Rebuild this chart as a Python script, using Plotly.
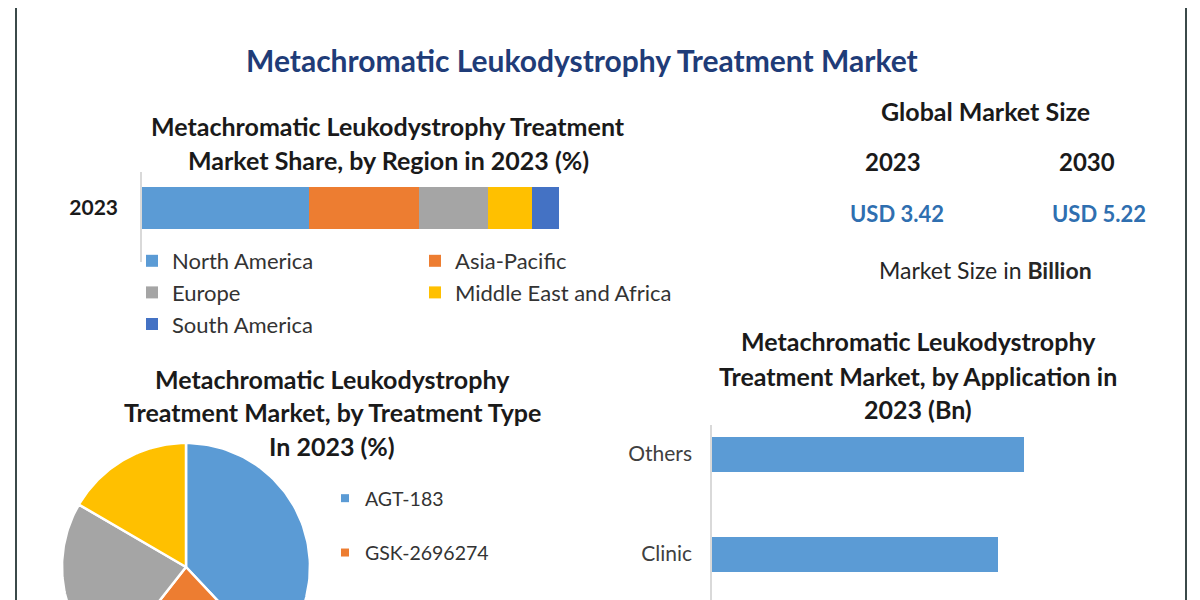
import numpy as np
import plotly.graph_objects as go

# page body has an 8px margin: the figure occupies page pixels 8..1200 / 8..600
OFF = 8
W, H = 1200 - OFF, 600 - OFF
FONT = "Lato"

# ---------------- data ----------------
main_title = "Metachromatic Leukodystrophy Treatment Market"

region_title = ["Metachromatic Leukodystrophy Treatment",
                "Market Share, by Region in 2023 (%)"]
region_year = "2023"
regions = ["North America", "Asia-Pacific", "Europe", "Middle East and Africa", "South America"]
region_share = [40.0, 26.4, 16.5, 10.6, 6.5]
region_colors = ["#5b9bd5", "#ed7d31", "#a5a5a5", "#ffc000", "#4472c4"]

market_years = ["2023", "2030"]
market_values = [3.42, 5.22]

treat_title = ["Metachromatic Leukodystrophy",
               "Treatment Market, by Treatment Type",
               "In 2023 (%)"]
treatments = ["AGT-183", "GSK-2696274", "OTL-200", "Others"]
treat_share = [38.0, 22.6, 22.8, 16.6]
treat_colors = ["#5b9bd5", "#ed7d31", "#a5a5a5", "#ffc000"]

app_title = ["Metachromatic Leukodystrophy",
             "Treatment Market, by Application in",
             "2023 (Bn)"]
applications = ["Others", "Clinic"]
app_values = [1.25, 1.146]
app_color = "#5b9bd5"


def py(px):
    """page pixel row -> paper y"""
    return 1 - (px - OFF) / H


def pxx(px):
    """page pixel column -> paper x"""
    return (px - OFF) / W


fig = go.Figure()

# ---------------- stacked region bar ----------------
leg_of = ["legend", "legend2", "legend", "legend2", "legend"]
for i, (name, val, col) in enumerate(zip(regions, region_share, region_colors)):
    fig.add_trace(go.Bar(
        x=[val], y=[0], orientation="h", name=name, width=0.467,
        marker=dict(color=col, line=dict(width=0)),
        legend=leg_of[i], legendgroup=name,
        xaxis="x", yaxis="y", hoverinfo="name+x"))

# ---------------- pie (drawn as wedges, clipped by bottom edge) ----------------
cum = np.concatenate([[0], np.cumsum(treat_share)]) / np.sum(treat_share) * 2 * np.pi
for i, (name, col) in enumerate(zip(treatments, treat_colors)):
    th = np.linspace(cum[i], cum[i + 1], 80)
    xs = np.concatenate([[0], np.sin(th), [0]])
    ys = np.concatenate([[0], np.cos(th), [0]])
    fig.add_trace(go.Scatter(
        x=xs, y=ys, mode="lines", fill="toself", fillcolor=col,
        line=dict(color="white", width=2.5), name=name,
        legendgroup=name, showlegend=False,
        xaxis="x3", yaxis="y3", hoverinfo="name"))
    # legend entry (square swatch)
    fig.add_trace(go.Scatter(
        x=[None], y=[None], mode="markers", name=name,
        marker=dict(symbol="square", size=8, color=col),
        legend="legend3", legendgroup=name, showlegend=i < 2,
        xaxis="x3", yaxis="y3"))

# ---------------- application bars ----------------
fig.add_trace(go.Bar(
    x=app_values, y=applications, orientation="h", width=0.35,
    marker=dict(color=app_color, line=dict(width=0)), showlegend=False,
    xaxis="x2", yaxis="y2", hoverinfo="x+y"))

hidden = dict(showgrid=False, zeroline=False, showticklabels=False, showline=False, ticks="")

# ---------------- annotations ----------------
ann = []


def text(t, x, y, size, color="#1a1a1a", bold=True, xanchor="center"):
    ann.append(dict(text=t, x=pxx(x), y=py(y), xref="paper", yref="paper",
                    xanchor=xanchor, yanchor="middle", showarrow=False,
                    font=dict(family=FONT, size=size, color=color,
                              weight="bold" if bold else "normal")))


text(main_title, 582, 60, 30, color="#1f3c78")
text(region_title[0], 388, 126, 25)
text(region_title[1], 388, 160, 25)

text("Global Market Size", 985, 111, 25)
text(market_years[0], 893, 162, 24)
text(market_years[1], 1087, 162, 24)
text(f"USD {market_values[0]:.2f}", 897, 213, 22, color="#2f6fb0")
text(f"USD {market_values[1]:.2f}", 1099, 213, 22, color="#2f6fb0")
text("Market Size in <b>Billion</b>", 985, 270, 23, color="#262626", bold=False)

for t, yy in zip(treat_title, [379, 412, 446]):
    text(t, 332, yy, 25)
for t, yy in zip(app_title, [341, 376, 409]):
    text(t, 918, yy, 25)

fig.update_layout(
    width=W, height=H,
    margin=dict(l=0, r=0, t=0, b=0),
    paper_bgcolor="white", plot_bgcolor="white",
    barmode="stack", bargap=0,
    font=dict(family=FONT, color="#262626"),
    annotations=ann,
    # region bar
    xaxis=dict(domain=[pxx(142), pxx(559)], range=[0, 100], anchor="y", **hidden),
    yaxis=dict(domain=[py(262), py(172)], range=[-0.6, 0.4], anchor="x",
               tickvals=[0], ticktext=[region_year], showgrid=False, zeroline=False,
               showline=True, linecolor="#d9d9d9", linewidth=1.5, ticks="",
               ticklabelstandoff=18,
               tickfont=dict(family=FONT, size=21, color="#1a1a1a", weight="bold")),
    # application bars
    xaxis2=dict(domain=[pxx(712), pxx(1111)], range=[0, 1.6], anchor="y2", **hidden),
    yaxis2=dict(domain=[0, py(425)], type="category", categoryorder="array",
                categoryarray=applications, range=[1.46, -0.29], anchor="x2",
                showgrid=False, zeroline=False, showline=True, linecolor="#d9d9d9",
                linewidth=1.5, ticks="", ticklabelstandoff=14,
                tickfont=dict(family=FONT, size=21, color="#404040")),
    # pie area
    xaxis3=dict(domain=[0, pxx(400)], range=[-(186 - OFF) / 124, (400 - 186) / 124],
                anchor="y3", **hidden),
    yaxis3=dict(domain=[0, py(430)], range=[-33 / 124, 137 / 124], anchor="x3", **hidden),
    legend=dict(x=pxx(132), y=py(240), xanchor="left", yanchor="top",
                orientation="v", tracegroupgap=0, bgcolor="rgba(0,0,0,0)",
                font=dict(family=FONT, size=22, color="#333333"), itemwidth=30),
    legend2=dict(x=pxx(415), y=py(240), xanchor="left", yanchor="top",
                 orientation="v", tracegroupgap=0, bgcolor="rgba(0,0,0,0)",
                 font=dict(family=FONT, size=22, color="#333333"), itemwidth=30),
    legend3=dict(x=pxx(325), y=py(479), xanchor="left", yanchor="top",
                 orientation="v", tracegroupgap=26, bgcolor="rgba(0,0,0,0)",
                 font=dict(family=FONT, size=19.5, color="#333333"), itemwidth=30),
    shapes=[
        dict(type="line", xref="paper", yref="paper", x0=pxx(16), x1=pxx(16), y0=0, y1=1,
             line=dict(color="#3b4a4a", width=2)),
        dict(type="line", xref="paper", yref="paper", x0=pxx(1186), x1=pxx(1186), y0=0, y1=1,
             line=dict(color="#3b4a4a", width=2)),
    ],
)

fig.write_html("out.html")
